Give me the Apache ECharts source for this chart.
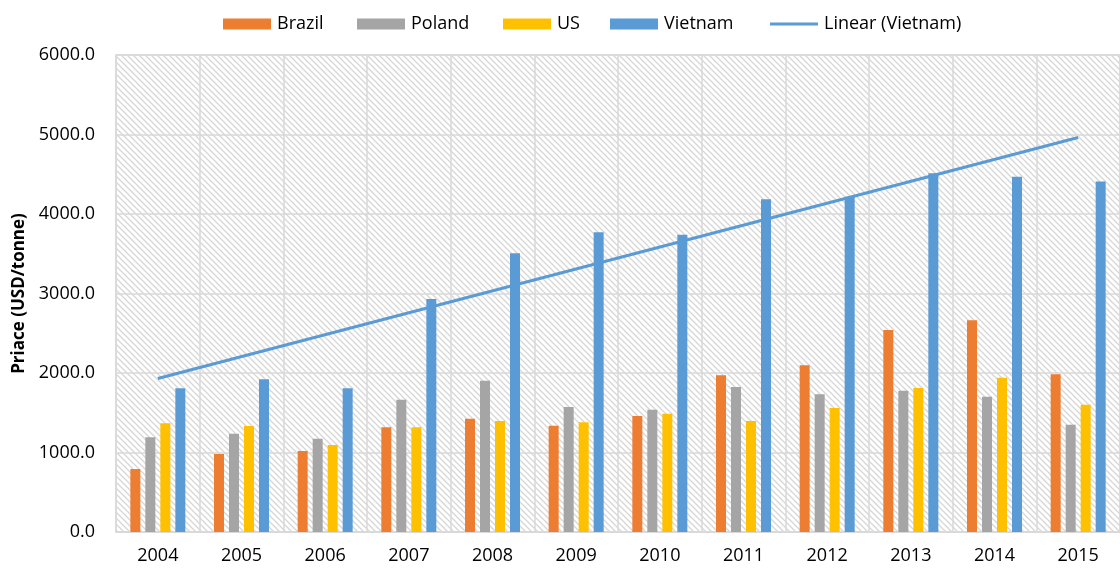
<!DOCTYPE html>
<html>
<head>
<meta charset="utf-8">
<script src="https://cdn.jsdelivr.net/npm/echarts@6/dist/echarts.min.js"></script>
<style>
html,body{margin:0;padding:0;background:#fff;}
#chart{width:1120px;height:571px;}
</style>
</head>
<body>
<div id="chart"></div>
<script>
const categories = ['2004','2005','2006','2007','2008','2009','2010','2011','2012','2013','2014','2015'];
const brazil  = [792, 981, 1019, 1317, 1425, 1337, 1459, 1971, 2097, 2541, 2665, 1983];
const poland  = [1191, 1237, 1174, 1664, 1903, 1572, 1539, 1824, 1732, 1778, 1702, 1350];
const us      = [1367, 1333, 1094, 1317, 1396, 1379, 1488, 1396, 1560, 1811, 1941, 1601];
const vietnam = [1807, 1920, 1807, 2931, 3505, 3772, 3740, 4187, 4218, 4512, 4469, 4410];
const trendStart = 1930;
const trendEnd = 4962;
const yTicks = [0, 1000, 2000, 3000, 4000, 5000, 6000];
const seriesNames = ['Brazil', 'Poland', 'US', 'Vietnam', 'Linear (Vietnam)'];

const FONT = '"Open Sans", sans-serif';

function hatch() {
  const c = document.createElement('canvas');
  c.width = 6; c.height = 6;
  const g = c.getContext('2d');
  g.fillStyle = '#ffffff';
  g.fillRect(0, 0, 6, 6);
  g.strokeStyle = '#d6d6d6';
  g.lineWidth = 1.3;
  g.beginPath();
  g.moveTo(-1, -1); g.lineTo(7, 7);
  g.moveTo(-7, -1); g.lineTo(1, 7);
  g.moveTo(5, -1); g.lineTo(13, 7);
  g.stroke();
  return c;
}

const legendLefts = [218, 352, 498, 605, 765];
const legends = seriesNames.map((n, i) => ({
  top: 10, left: legendLefts[i],
  itemWidth: 48, itemHeight: i === 4 ? 3 : 11, itemGap: 0,
  textStyle: { fontSize: 18, color: '#000', fontFamily: FONT, padding: [0, 0, 0, 1] },
  data: [{ name: n, icon: 'rect' }]
}));

const chart = echarts.init(document.getElementById('chart'), null, {renderer: 'canvas'});
const barCommon = { type: 'bar', barWidth: 10, barGap: '50%' };
chart.setOption({
  animation: false,
  backgroundColor: '#ffffff',
  textStyle: { fontFamily: FONT },
  legend: legends,
  grid: {
    left: 116, top: 55, width: 1011, height: 477,
    show: true,
    backgroundColor: { image: hatch(), repeat: 'repeat' },
    borderColor: '#d9d9d9', borderWidth: 1.5
  },
  xAxis: {
    type: 'category',
    data: categories,
    axisLine: { lineStyle: { color: '#d9d9d9', width: 1.5 } },
    axisTick: { show: false },
    axisLabel: { fontSize: 18, color: '#000', margin: 15, fontFamily: FONT },
    splitLine: { show: true, lineStyle: { color: '#d9d9d9', width: 1.5 } }
  },
  yAxis: {
    type: 'value',
    min: yTicks[0], max: yTicks[yTicks.length - 1], interval: 1000,
    name: 'Priace (USD/tonne)',
    nameLocation: 'middle',
    nameGap: 86,
    nameTextStyle: { fontSize: 17, fontWeight: 'bold', color: '#000', fontFamily: FONT },
    axisLine: { show: false },
    axisTick: { show: false },
    axisLabel: { fontSize: 18, color: '#000', margin: 21, fontFamily: FONT,
      formatter: v => v.toFixed(1) },
    splitLine: { show: true, lineStyle: { color: '#d9d9d9', width: 1.5 } }
  },
  series: [
    Object.assign({ name: seriesNames[0], data: brazil, itemStyle: { color: '#ED7D31' } }, barCommon),
    Object.assign({ name: seriesNames[1], data: poland, itemStyle: { color: '#A5A5A5' } }, barCommon),
    Object.assign({ name: seriesNames[2], data: us, itemStyle: { color: '#FFC000' } }, barCommon),
    Object.assign({ name: seriesNames[3], data: vietnam, itemStyle: { color: '#5B9BD5' } }, barCommon),
    {
      name: seriesNames[4], type: 'line', z: 5,
      data: [[categories[0], trendStart], [categories[categories.length - 1], trendEnd]],
      symbol: 'none',
      lineStyle: { color: '#5B9BD5', width: 3 },
      itemStyle: { color: '#5B9BD5' }
    }
  ]
});
</script>
</body>
</html>
